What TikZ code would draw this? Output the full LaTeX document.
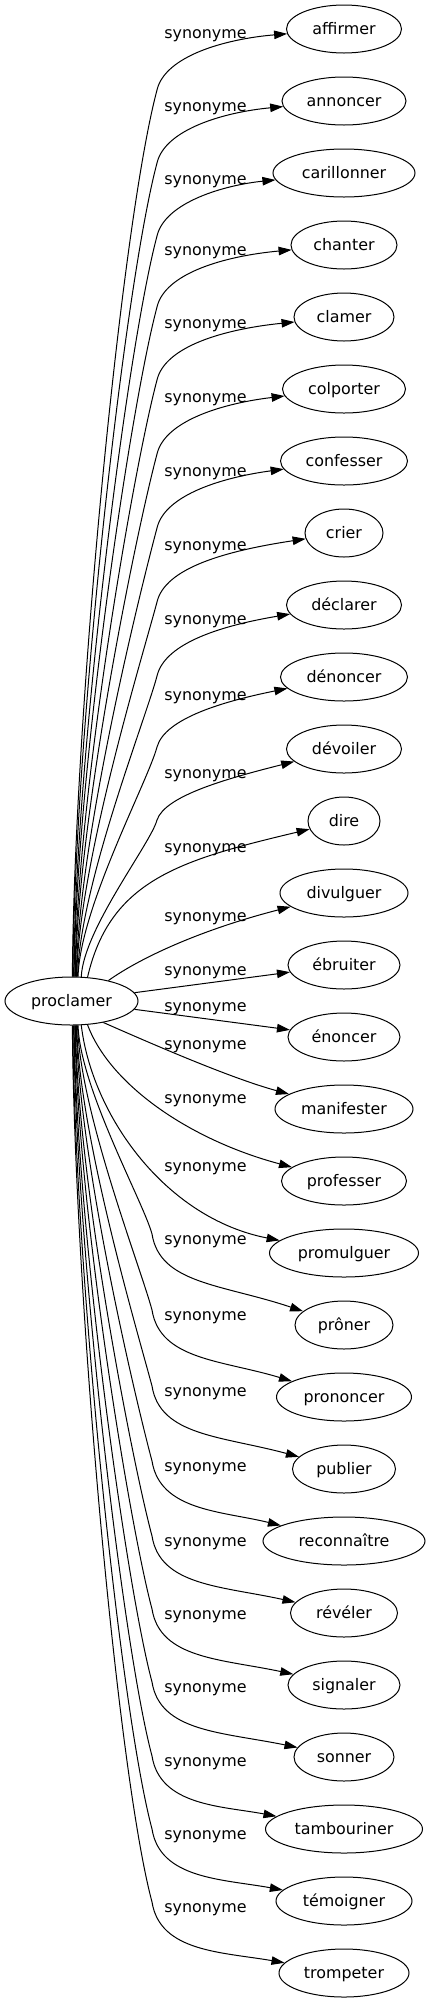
\documentclass[tikz,border=0pt]{standalone}
\usepackage{fontspec}
\setmainfont{DejaVu Sans}
\usetikzlibrary{arrows.meta,shapes.geometric}
\tikzset{
  syn/.style={ellipse, draw, line width=1pt, minimum height=48pt, inner sep=0pt,
    font=\fontsize{15.9}{19}\selectfont, text height=13pt, text depth=3pt},
  lab/.style={anchor=base, inner sep=0pt, font=\fontsize{15.9}{19}\selectfont},
  conn/.style={draw, line width=1pt, -{Triangle[length=13pt,width=8.5pt]}},
}
\begin{document}
\begin{tikzpicture}[x=1pt,y=-1pt]
\useasboundingbox (0,0) rectangle (430,2003);
\node[syn, minimum width=133pt] (root) at (71.5,1001) {proclamer};

% upper far edges
\foreach \n/\t/\L/\w/\a/\o [count=\i from 0] in {
  affirmer/affirmer/33/115/88/57,
  annoncer/annoncer/106/124/87/57,
  carillonner/carillonner/179/142/85/57,
  chanter/chanter/250/106/84/57,
  clamer/clamer/323/100/82/57,
  colporter/colporter/397/123/81/57,
  confesser/confesser/471/127/79/57,
  crier/crier/545/78/78/57,
  declarer/déclarer/619/115/76/57,
  denoncer/dénoncer/695/127/75/52,
  devoiler/dévoiler/773/115/68/47}{
  \pgfmathsetmacro\T{29+72*\i}
  \pgfmathsetmacro\K{\L+\o}
  \pgfmathsetmacro\D{977-\K}
  \node[syn, minimum width=\w pt] (\n) at (344,\T) {\t};
  \node[lab] (l\n) at (205.5,\L+5) {synonyme};
  \coordinate (k\n) at (157,\K);
  \draw[conn] (root.\a) .. controls +(2,-0.3*\D) and +(-0.04*\D,0.15*\D) .. (k\n)
    .. controls (165,\L+23) and (225,\L+6) .. (\n);
}

% middle edges
\node[syn, minimum width=72pt] (dire) at (344,821) {dire};
\node[lab] (ldire) at (205.5,852) {synonyme};
\draw[conn] (root.56) .. controls (110,880) and (180,860) .. (dire);

\node[syn, minimum width=128pt] (divulguer) at (344,893) {divulguer};
\node[lab] (ldivulguer) at (205.5,921) {synonyme};
\draw[conn] (root.29) .. controls (140,958) and (200,930) .. (divulguer);

\node[syn, minimum width=112pt] (ebruiter) at (344,965) {ébruiter};
\node[lab] (lebruiter) at (205.5,975) {synonyme};
\draw[conn] (root) -- (ebruiter);

\node[syn, minimum width=112pt] (enoncer) at (344,1037) {énoncer};
\node[lab] (lenoncer) at (205.5,1011) {synonyme};
\draw[conn] (root) -- (enoncer);

\node[syn, minimum width=138pt] (manifester) at (344,1109) {manifester};
\node[lab] (lmanifester) at (205.5,1049) {synonyme};
\draw[conn] (root.-34) .. controls (150,1043) and (230,1078) .. (manifester);

\node[syn, minimum width=125pt] (professer) at (344,1181) {professer};
\node[lab] (lprofesser) at (205.5,1103) {synonyme};
\draw[conn] (root.-56) .. controls (110,1085) and (190,1140) .. (professer);

\node[syn, minimum width=149pt] (promulguer) at (344,1253) {promulguer};
\node[lab] (lpromulguer) at (205.5,1171) {synonyme};
\draw[conn] (root.-68) .. controls (92,1115) and (165,1218) .. (promulguer);

% lower far edges
\foreach \n/\t/\L/\w/\a [count=\i from 18] in {
  proner/prôner/1239/98/-75,
  prononcer/prononcer/1315/135/-76,
  publier/publier/1391/103/-78,
  reconnaitre/reconnaître/1466/162/-79,
  reveler/révéler/1541/107/-81,
  signaler/signaler/1614/112/-82,
  sonner/sonner/1687/100/-84,
  tambouriner/tambouriner/1761/157/-85,
  temoigner/témoigner/1834/136/-87,
  trompeter/trompeter/1907/130/-88}{
  \pgfmathsetmacro\T{29+72*\i}
  \pgfmathsetmacro\K{\L-5}
  \pgfmathsetmacro\D{\K-1025}
  \node[syn, minimum width=\w pt] (\n) at (344,\T) {\t};
  \node[lab] (l\n) at (205.5,\L+5) {synonyme};
  \coordinate (k\n) at (152,\K);
  \draw[conn] (root.\a) .. controls +(2,0.3*\D) and +(-0.04*\D,-0.15*\D) .. (k\n)
    .. controls (160,\L+45) and (222,\L+45) .. (\n);
}
\end{tikzpicture}
\end{document}
